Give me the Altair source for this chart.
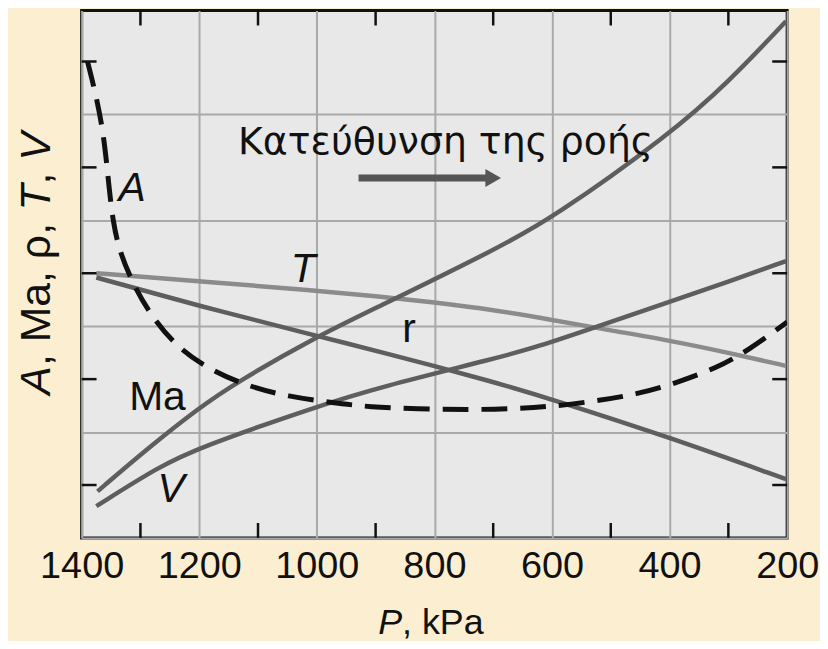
import altair as alt
import pandas as pd

# ---- data ----
A_P = [1390, 1373, 1361, 1353, 1346, 1336, 1314, 1285, 1241, 1183, 1116, 1048, 977, 909, 828, 743, 667, 603, 529, 456, 388, 320, 265, 200]
A_Y = [9.0, 8.25, 7.5, 6.56, 5.94, 5.43, 4.83, 4.25, 3.63, 3.18, 2.86, 2.67, 2.56, 2.47, 2.44, 2.42, 2.44, 2.48, 2.58, 2.71, 2.93, 3.21, 3.55, 4.08]

T_P = [1375, 1200, 1000, 900, 800, 700, 600, 500, 400, 300, 202]
T_Y = [5.00, 4.85, 4.67, 4.57, 4.45, 4.31, 4.12, 3.92, 3.73, 3.50, 3.25]

R_P = [1375, 1200, 1001, 896, 693, 601, 400, 202]
R_Y = [4.92, 4.38, 3.82, 3.53, 2.93, 2.62, 1.90, 1.11]

MA_P = [1373, 1290, 1200, 1138, 1001, 896, 693, 601, 400, 298, 202]
MA_Y = [0.88, 1.67, 2.46, 2.93, 3.80, 4.36, 5.47, 6.03, 7.62, 8.63, 9.76]

V_P = [1375, 1268, 1200, 1001, 896, 693, 625, 527, 400, 298, 202]
V_Y = [0.60, 1.35, 1.71, 2.48, 2.84, 3.40, 3.61, 3.98, 4.46, 4.85, 5.23]

X_LABELS = [1400, 1200, 1000, 800, 600, 400, 200]
X_MINOR = [1300, 1100, 900, 700, 500, 300]
Y_GRID = [0, 2, 4, 6, 8]
Y_MINOR = [1, 3, 5, 7, 9]

CURVE_LABELS = ["A", "T", "r", "Ma", "V"]
CURVE_LABEL_P = [1314, 1023, 843, 1271, 1248]
CURVE_LABEL_Y = [6.37, 4.83, 3.70, 2.42, 0.68]
CURVE_LABEL_ITALIC = [True, True, False, False, True]

FLOW_TEXT = "Κατεύθυνση της ροής"
FLOW_TEXT_P = 781
FLOW_TEXT_Y = 7.26
ARROW_P = [929, 700]
ARROW_Y = 6.80

# y-axis title pieces (italic variables)
YT_PARTS = ["A", ", Ma, ρ, ", "T", ", ", "V"]
YT_ITALIC = [True, False, True, False, True]

W, H = 709, 530
FONT = "Liberation Sans"
INK = "#111111"

xscale = alt.Scale(domain=[200, 1400], reverse=True, nice=False)
yscale = alt.Scale(domain=[0, 10 * 530 / 532], nice=False)

xaxis = alt.Axis(values=X_LABELS, format="d", ticks=False, domain=False,
                 labelFontSize=38, labelFont=FONT, labelColor=INK,
                 labelPadding=10, grid=True, gridColor="#a9a9a9", gridWidth=2,
                 title=None, labelFlush=False)
yaxis = alt.Axis(values=Y_GRID, labels=False, ticks=False, domain=False,
                 grid=True, gridColor="#a9a9a9", gridWidth=2, title=None)

X = lambda f="P": alt.X(f"{f}:Q", scale=xscale)
Y = lambda f="Y": alt.Y(f"{f}:Q", scale=yscale)

def curve(P, Yv, color, width=4.5, dash=None):
    kw = dict(color=color, strokeWidth=width, interpolate="basis", clip=True)
    if dash:
        kw["strokeDash"] = dash
    return alt.Chart(pd.DataFrame({"P": P, "Y": Yv})).mark_line(**kw).encode(x=X(), y=Y())

axes_layer = alt.Chart(pd.DataFrame({"P": [200, 1400], "Y": [0, 9.9]})).mark_point(opacity=0).encode(
    x=alt.X("P:Q", scale=xscale, axis=xaxis), y=alt.Y("Y:Q", scale=yscale, axis=yaxis))

dark = "#5e5e5e"
light = "#8b8b8b"

lines = [
    curve(T_P, T_Y, light),
    curve(R_P, R_Y, dark),
    curve(MA_P, MA_Y, dark),
    curve(V_P, V_Y, dark),
    curve(A_P, A_Y, INK, width=5, dash=[26, 13]),
]

xm = pd.DataFrame({"P": X_MINOR})
ym = pd.DataFrame({"Y": Y_MINOR})
tick_style = dict(color=INK, strokeWidth=2.5)
ticks = [
    alt.Chart(xm).mark_rule(**tick_style).encode(x=X(), y=alt.value(H - 15), y2=alt.value(H)),
    alt.Chart(xm).mark_rule(**tick_style).encode(x=X(), y=alt.value(0), y2=alt.value(15)),
    alt.Chart(ym).mark_rule(**tick_style).encode(y=Y(), x=alt.value(0), x2=alt.value(15)),
    alt.Chart(ym).mark_rule(**tick_style).encode(y=Y(), x=alt.value(W - 15), x2=alt.value(W)),
]

lab_df = pd.DataFrame({"t": CURVE_LABELS, "P": CURVE_LABEL_P, "Y": CURVE_LABEL_Y, "it": CURVE_LABEL_ITALIC})
labels_it = alt.Chart(lab_df[lab_df.it]).mark_text(font=FONT, fontSize=41, fontStyle="italic", color=INK,
                                                   baseline="alphabetic").encode(x=X(), y=Y(), text="t:N")
labels_up = alt.Chart(lab_df[~lab_df.it]).mark_text(font=FONT, fontSize=41, color=INK,
                                                    baseline="alphabetic").encode(x=X(), y=Y(), text="t:N")

flow = alt.Chart(pd.DataFrame({"P": [FLOW_TEXT_P], "Y": [FLOW_TEXT_Y], "t": [FLOW_TEXT]})).mark_text(
    font="DejaVu Sans", fontSize=38, color=INK, baseline="alphabetic").encode(x=X(), y=Y(), text="t:N")

arrow_df = pd.DataFrame({"P": [ARROW_P[0]], "P2": [ARROW_P[1]], "Y": [ARROW_Y]})
arrow_shaft = alt.Chart(arrow_df).mark_rule(color="#555", strokeWidth=7).encode(x=X(), x2="P2:Q", y=Y())
arrow_head = alt.Chart(arrow_df).mark_point(shape="triangle-right", filled=True, color="#555", size=330,
                                            opacity=1).encode(x=X("P2"), y=Y())

# x title: italic P + ", kPa"
XT_FS = 36
xt_p = alt.Chart(pd.DataFrame({"t": ["P"]})).mark_text(font=FONT, fontSize=XT_FS, fontStyle="italic", color=INK,
                                                       align="right", baseline="alphabetic").encode(
    text="t:N", x=alt.value(322), y=alt.value(627))
xt_rest = alt.Chart(pd.DataFrame({"t": [", kPa"]})).mark_text(font=FONT, fontSize=XT_FS, color=INK,
                                                              align="left", baseline="alphabetic").encode(
    text="t:N", x=alt.value(322), y=alt.value(627))

# y title: rotated pieces reading bottom-to-top
YT_FS = 43
widths_em = {"A": 0.667, ", Ma, ρ, ": 3.635, "T": 0.611, ", ": 0.556, "V": 0.667}
yt_layers = []
pos = 386
for part, it in zip(YT_PARTS, YT_ITALIC):
    kw = dict(font=FONT, fontSize=YT_FS, color=INK, angle=270, align="left", baseline="alphabetic")
    if it:
        kw["fontStyle"] = "italic"
    yt_layers.append(alt.Chart(pd.DataFrame({"t": [part]})).mark_text(**kw).encode(
        text="t:N", x=alt.value(-32), y=alt.value(pos)))
    pos -= widths_em[part] * YT_FS

chart = alt.layer(axes_layer, *lines, *ticks, labels_it, labels_up, flow, arrow_shaft, arrow_head,
                  xt_p, xt_rest, *yt_layers).properties(
    width=W, height=H,
    autosize=alt.AutoSizeParams(type="none"),
    padding={"left": 74, "top": 1, "right": 33, "bottom": 102},
    background="#fcefd1",
).configure_view(fill="#e8e8e8", stroke=INK, strokeWidth=3)

chart.save("out.html", embed_options={"renderer": "svg", "actions": False})
